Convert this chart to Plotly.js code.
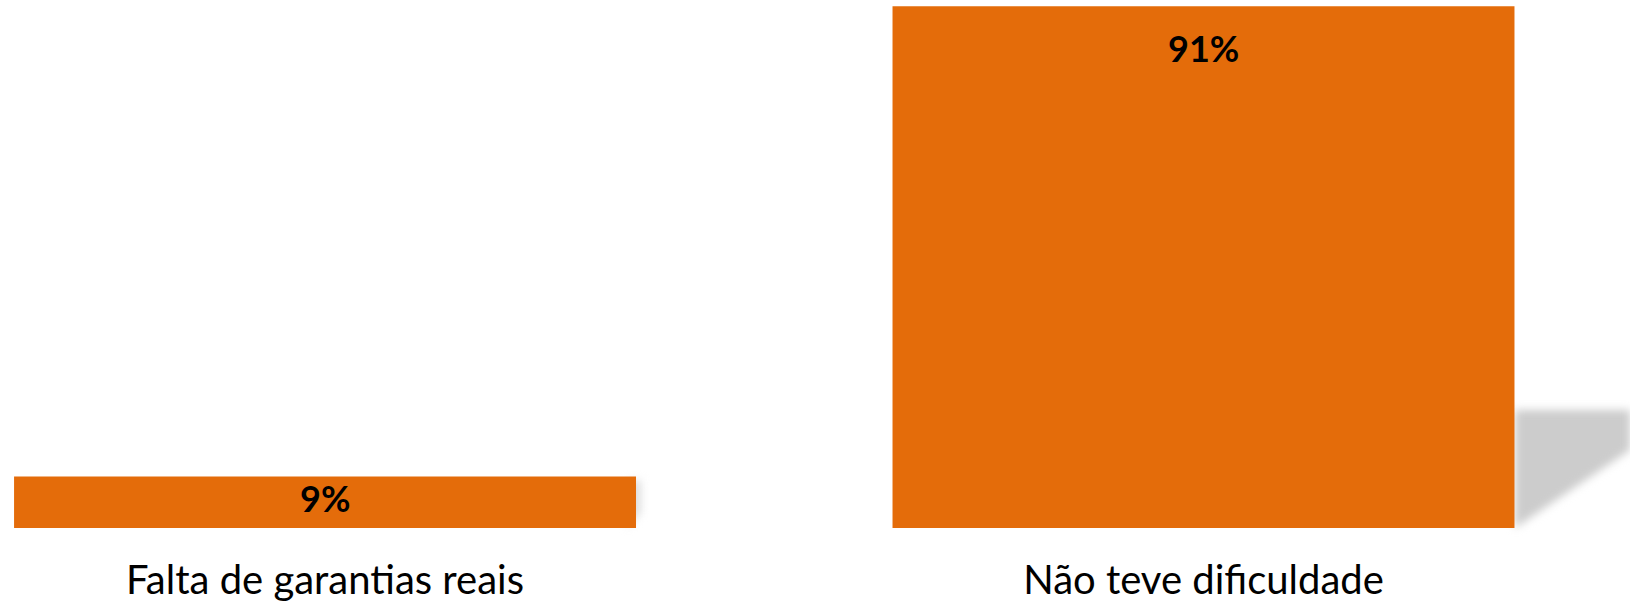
<!DOCTYPE html>
<html>
<head>
<meta charset="utf-8">
<script src="https://cdn.plot.ly/plotly-3.0.1.min.js"></script>
<style>html,body{margin:0;padding:0;background:#fff;}#chart{width:1630px;height:605px;}</style>
</head>
<body>
<div id="chart"></div>
<script>
const categories = ["Falta de garantias reais", "Não teve dificuldade"];
const values = [9, 91];
const labelOffsets = [2, -18];

const barColor = "#E46C0A";
const fontFamily = "Lato, 'Open Sans', sans-serif";

const trace = {
  type: "bar",
  x: categories,
  y: values,
  width: 0.708,
  marker: {color: barColor, line: {width: 0}},
  hoverinfo: "none"
};

const annotations = categories.map((c, i) => ({
  x: c, y: values[i], xref: "x", yref: "y",
  text: "<b>" + values[i] + "%</b>",
  showarrow: false, yanchor: "top", yshift: labelOffsets[i],
  font: {family: fontFamily, size: 36, color: "#000"}
}));

const layout = {
  width: 1630, height: 605,
  margin: {l: 0, r: 0, t: 0, b: 77, pad: 0},
  paper_bgcolor: "#fff", plot_bgcolor: "#fff",
  showlegend: false,
  xaxis: {
    type: "category", range: [-0.37, 1.4855],
    showgrid: false, zeroline: false, showline: false, ticks: "",
    ticklabelstandoff: 25,
    tickfont: {family: fontFamily, size: 40, color: "#000"}
  },
  yaxis: {
    range: [0, 92.08], visible: false, showgrid: false, zeroline: false
  },
  annotations: annotations,
  shapes: [{
    type: "path", xref: "paper", yref: "paper", layer: "below",
    path: "M 0.9294,0.2235 L 1,0.2235 L 1,0.1477 L 0.9294,0 Z",
    fillcolor: "#cccccc", line: {width: 0}
  }, {
    type: "path", xref: "paper", yref: "paper", layer: "below",
    path: "M 0.385,0.09 L 0.393,0.09 L 0.393,0.03 L 0.385,0 Z",
    fillcolor: "#dddddd", line: {width: 0}
  }]
};

Plotly.newPlot("chart", [trace], layout, {displayModeBar: false, staticPlot: true}).then(() => {
  document.querySelectorAll(".shapelayer path").forEach(p => { p.style.filter = "blur(4px)"; });
});
</script>
</body>
</html>
